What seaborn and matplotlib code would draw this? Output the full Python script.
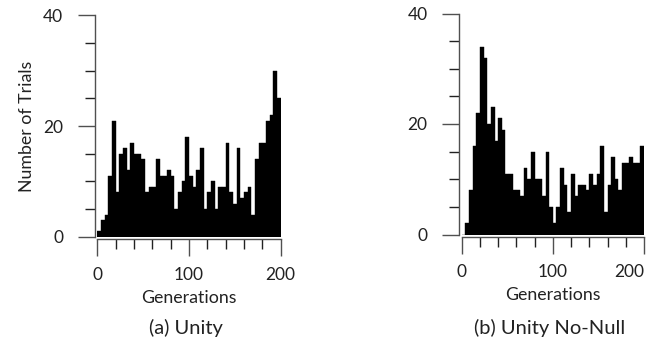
import numpy as np
import pandas as pd
import matplotlib
matplotlib.use("Agg")
import matplotlib.pyplot as plt
from matplotlib.ticker import MultipleLocator
import seaborn as sns

# ---- data (bin counts; bins of 4 generations, 0..200) ----
bin_width = 4
unity_counts = [1, 3, 4, 11, 21, 8, 15, 16, 12, 17,
                15, 15, 14, 8, 9, 9, 14, 11, 11, 12,
                11, 5, 8, 10, 18, 11, 9, 12, 16, 5,
                8, 10, 5, 9, 9, 17, 8, 6, 16, 7,
                8, 9, 4, 14, 17, 17, 21, 22, 30, 25]
nonull_counts = [0, 2, 8, 16, 22, 34, 32, 20, 23, 17,
                 21, 19, 11, 11, 8, 8, 7, 12, 10, 15,
                 10, 10, 7, 15, 5, 2, 5, 12, 9, 4,
                 11, 7, 9, 9, 8, 11, 9, 11, 16, 4,
                 9, 14, 10, 8, 13, 13, 14, 13, 13, 16]
captions = ["(a) Unity", "(b) Unity No-Null"]
x_label = "Generations"
y_label = "Number of Trials"
x_ticks = [0, 100, 200]
y_ticks = [0, 20, 40]

sns.set_theme(style="ticks")
plt.rcParams["font.family"] = ["Lato", "DejaVu Sans"]

fig = plt.figure(figsize=(6.56, 3.43), dpi=100)
W, H = 656, 343

def axes_px(x0, x1, y0, y1):
    return fig.add_axes([x0 / W, (H - y0) / H, (x1 - x0) / W, (y0 - y1) / H])

ax_a = axes_px(97.3, 280.7, 236.7, 15.4)
ax_b = axes_px(461.7, 644.0, 234.5, 13.5)

centers = np.arange(len(unity_counts)) * bin_width + bin_width / 2

spine_col = "#505050"
for ax, counts, cap in [(ax_a, unity_counts, captions[0]), (ax_b, nonull_counts, captions[1])]:
    df = pd.DataFrame({"gen": centers, "n": np.asarray(counts, dtype=float)})
    sns.histplot(data=df, x="gen", weights="n", binwidth=bin_width, binrange=(0, 200),
                 ax=ax, color="black", alpha=1, element="bars", fill=True,
                 edgecolor="black", linewidth=0.3)
    ax.set_xlim(0, 200)
    ax.set_ylim(0, 40)
    ax.set_xticks(x_ticks)
    ax.set_yticks(y_ticks)
    ax.xaxis.set_minor_locator(MultipleLocator(20))
    ax.yaxis.set_minor_locator(MultipleLocator(5))
    ax.tick_params(axis="both", which="major", length=12.5, width=1, color=spine_col,
                   labelsize=12.5, pad=7, labelcolor="#222222")
    ax.tick_params(axis="both", which="minor", length=7, width=1, color="#222222")
    ax.tick_params(axis="y", which="major", pad=10)
    ax.set_xlabel(x_label, fontsize=12.8, color="#222222", labelpad=5)
    ax.set_ylabel("")
    sns.despine(ax=ax, offset=2, trim=True)
    for s in ("left", "bottom"):
        ax.spines[s].set_color(spine_col)
        ax.spines[s].set_linewidth(1)
    pos = ax.get_position()
    fig.text(pos.x0 + pos.width / 2 - 3 / W, (H - 328) / H, cap, ha="center", va="center",
             fontsize=14.5, color="#222222")

ax_a.set_ylabel(y_label, fontsize=12.8, color="#222222", labelpad=6)
ax_b.get_xticklabels()[-1].set_horizontalalignment("right")
ax_b.get_xticklabels()[-1].set_x(206)

fig.savefig("out.png", dpi=100)
